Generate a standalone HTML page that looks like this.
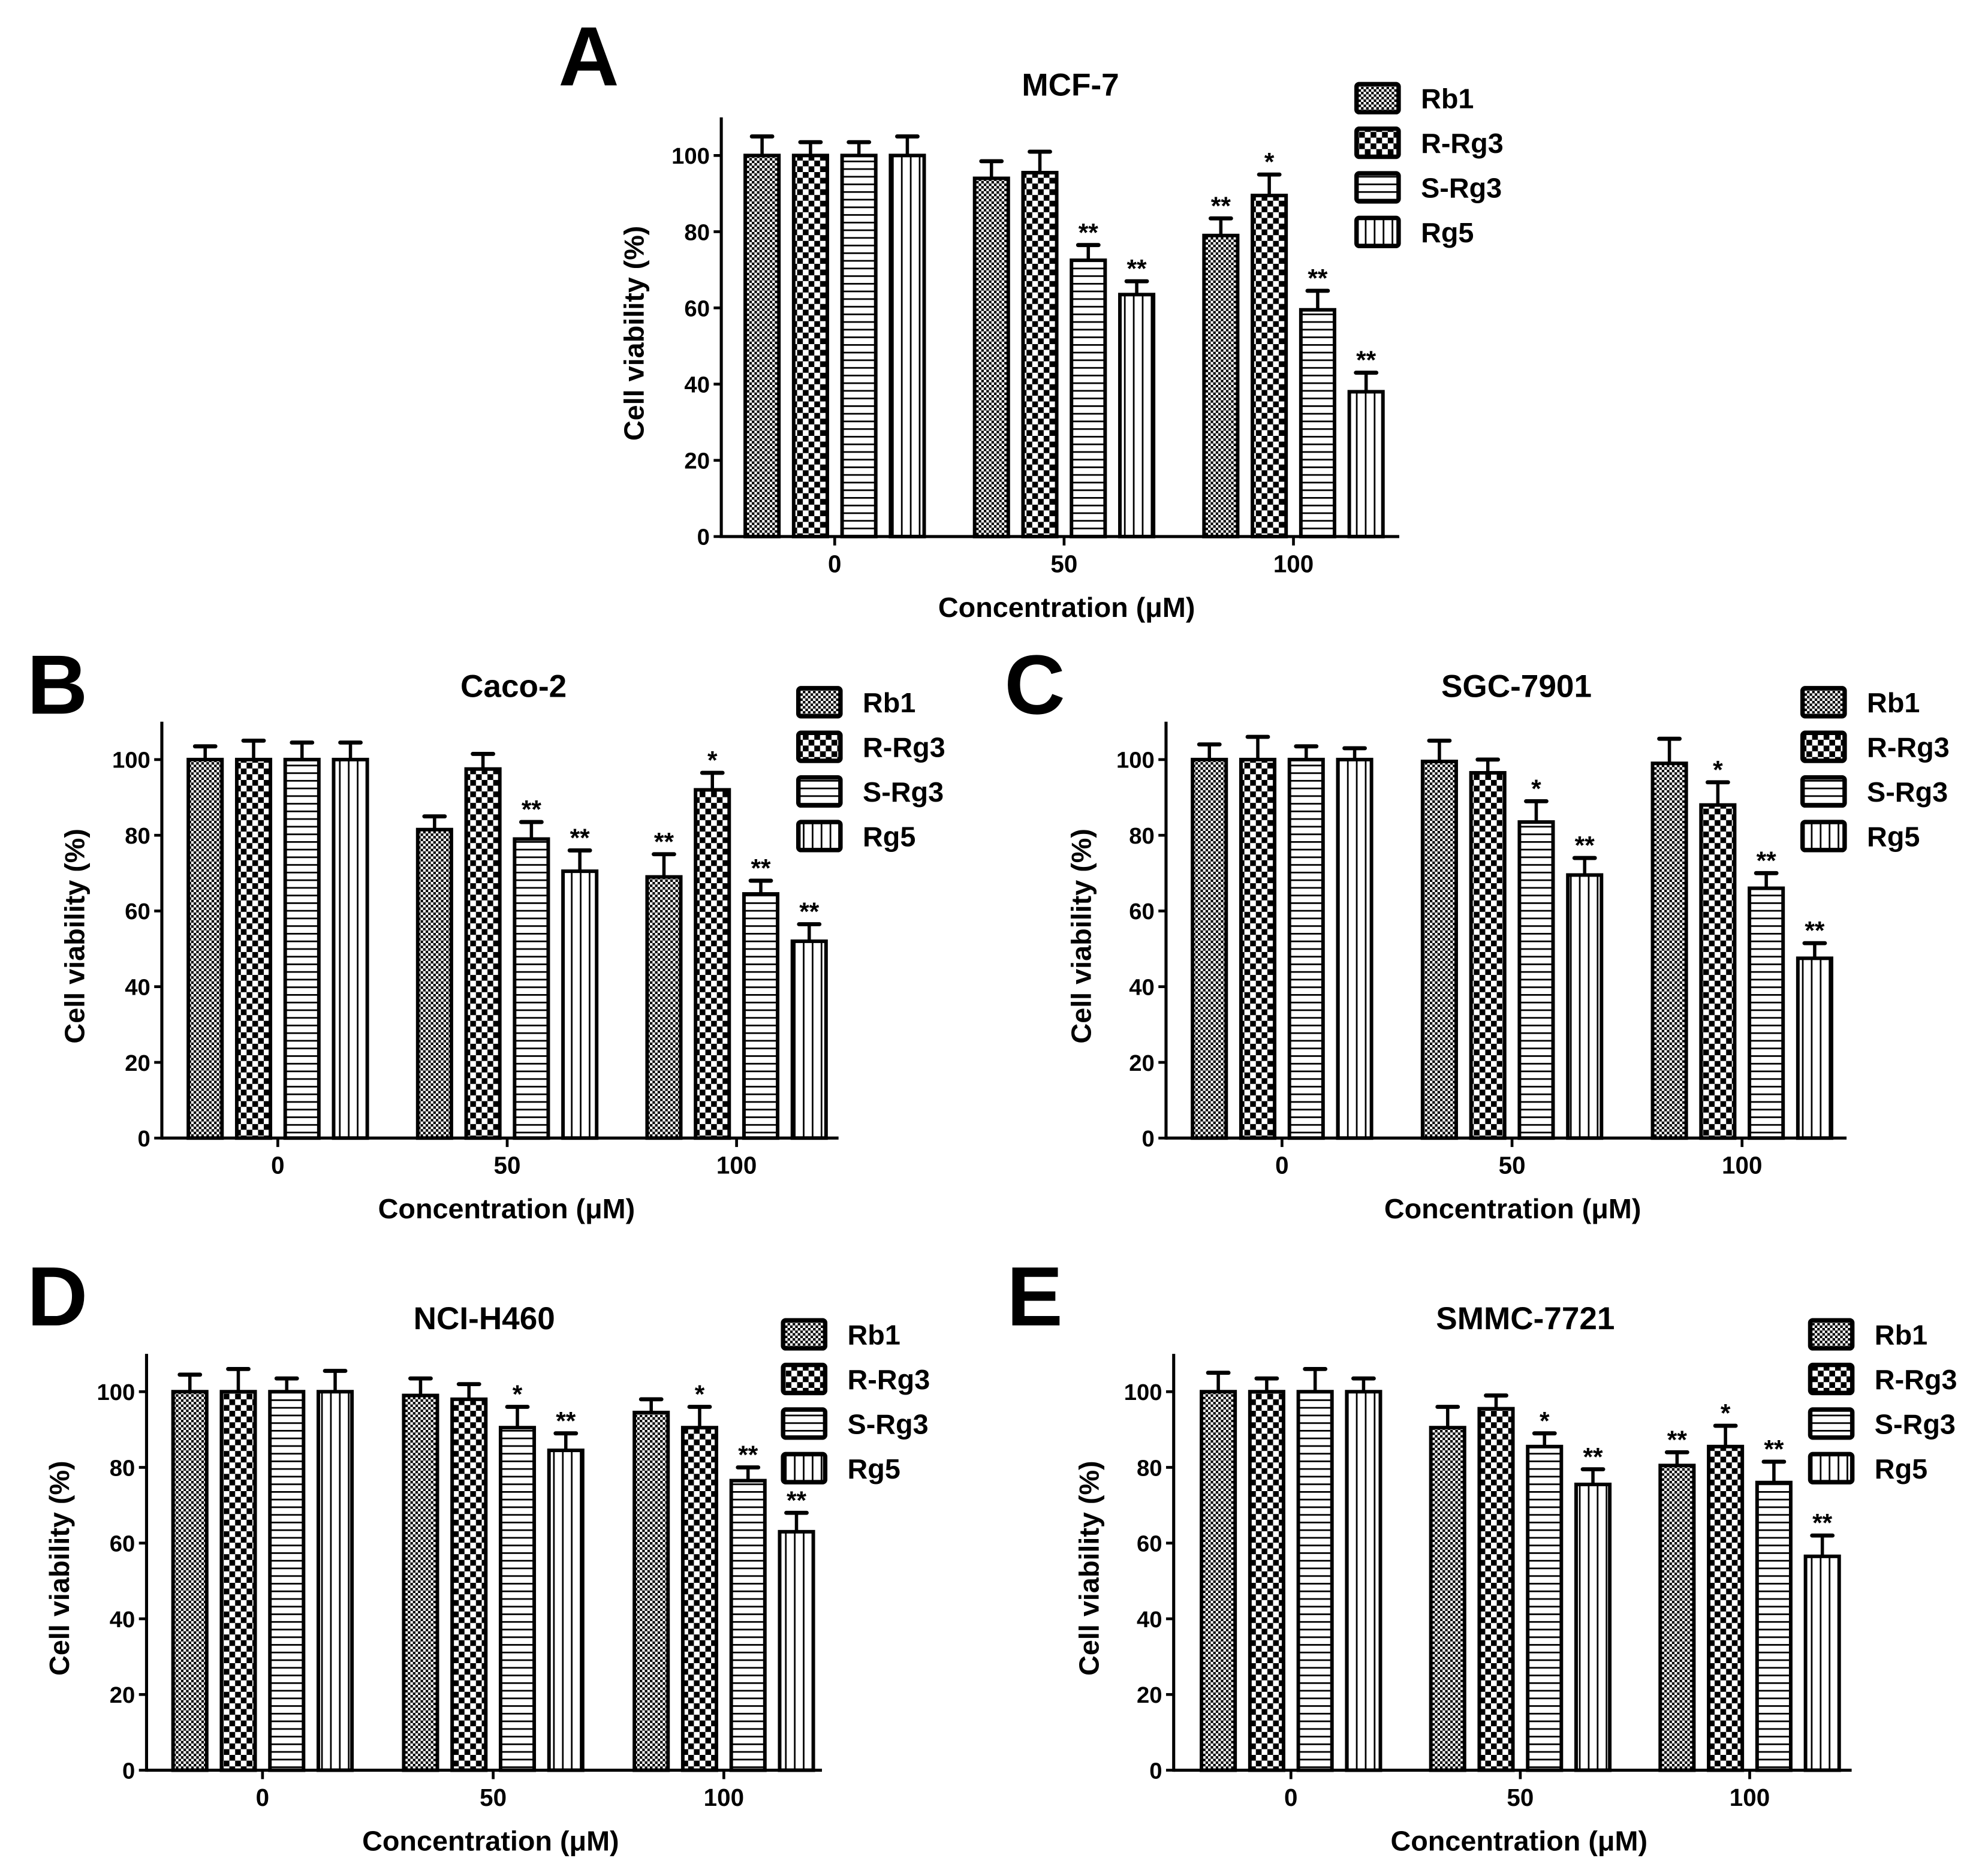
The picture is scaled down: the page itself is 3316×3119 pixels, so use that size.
<!DOCTYPE html>
<html><head><meta charset="utf-8"><style>
html,body{margin:0;padding:0;background:#fff}
svg{display:block}
text{font-family:"Liberation Sans",Arial,sans-serif;font-weight:bold;fill:#000}
</style></head><body>
<svg id="fig" xmlns="http://www.w3.org/2000/svg" width="3316" height="3119" viewBox="0 0 1560 1467.3">
<defs>
<pattern id="p-rb1" patternUnits="userSpaceOnUse" width="4" height="4"><rect width="4" height="4" fill="#fff"/><rect width="2" height="2" fill="#000"/><rect x="2" y="2" width="2" height="2" fill="#000"/></pattern>
<pattern id="p-rrg3" patternUnits="userSpaceOnUse" width="9" height="9"><rect width="9" height="9" fill="#fff"/><rect width="4.5" height="4.5" fill="#000"/><rect x="4.5" y="4.5" width="4.5" height="4.5" fill="#000"/></pattern>
<pattern id="p-srg3" patternUnits="userSpaceOnUse" width="6" height="6"><rect width="6" height="6" fill="#fff"/><rect y="0" width="6" height="1.3" fill="#000"/></pattern>
<pattern id="p-rg5" patternUnits="userSpaceOnUse" width="7" height="7"><rect width="7" height="7" fill="#fff"/><rect x="0" width="1.3" height="7" fill="#000"/></pattern>
</defs>
</svg>
<script>
const series = ["Rb1","R-Rg3","S-Rg3","Rg5"];
const categories = ["0","50","100"];
const yTicks = [0,20,40,60,80,100];
const panelTitles = ["MCF-7","Caco-2","SGC-7901","NCI-H460","SMMC-7721"];
const panelLetters = ["A","B","C","D","E"];
// values[panel][series][category]
const valsA = [[100,94,79],[100,95.5,89.5],[100,72.5,59.5],[100,63.5,38]];
const errsA = [[5,4.5,4.5],[3.5,5.5,5.5],[3.5,4,5],[5,3.5,5]];
const starsA = [["","",""],["","","*"],["","**","**"],["","**","**"]];
const valsA_rb1fix = null;
const valsB = [[100,81.5,69],[100,97.5,92],[100,79,64.5],[100,70.5,52]];
const errsB = [[3.5,3.5,6],[5,4,4.5],[4.5,4.5,3.5],[4.5,5.5,4.5]];
const starsB = [["","","**"],["","","*"],["","**","**"],["","**","**"]];
const valsC = [[100,99.5,99],[100,96.5,88],[100,83.5,66],[100,69.5,47.5]];
const errsC = [[4,5.5,6.5],[6,3.5,6],[3.5,5.5,4],[3,4.5,4]];
const starsC = [["","",""],["","","*"],["","*","**"],["","**","**"]];
const valsD = [[100,99,94.5],[100,98,90.5],[100,90.5,76.5],[100,84.5,63]];
const errsD = [[4.5,4.5,3.5],[6,4,5.5],[3.5,5.5,3.5],[5.5,4.5,5]];
const starsD = [["","",""],["","","*"],["","*","**"],["","**","**"]];
const valsE = [[100,90.5,80.5],[100,95.5,85.5],[100,85.5,76],[100,75.5,56.5]];
const errsE = [[5,5.5,3.5],[3.5,3.5,5.5],[6,3.5,5.5],[3.5,4,5.5]];
const starsE = [["","","**"],["","","*"],["","*","**"],["","**","**"]];
starsA[0][2]="**";

const panelVals=[valsA,valsB,valsC,valsD,valsE];
const panelErrs=[errsA,errsB,errsC,errsD,errsE];
const panelStars=[starsA,starsB,starsC,starsD,starsE];

// layout (not data)
const layouts=[
 {ax:566,y0:421,y100:122,x1:1098,g0:655,gs:180,title:[840,75],letter:[462,67],leg:[1063,77],ytx:497},
 {ax:127,y0:893,y100:596,x1:658,g0:218,gs:180,title:[403,547],letter:[45,560],leg:[625,551],ytx:58},
 {ax:915,y0:893,y100:596,x1:1449,g0:1006,gs:180.5,title:[1190,547],letter:[812,560],leg:[1413,551],ytx:848},
 {ax:115,y0:1389,y100:1092,x1:645,g0:206,gs:181,title:[380,1043],letter:[45,1040],leg:[613,1047],ytx:46},
 {ax:921,y0:1389,y100:1092,x1:1453,g0:1013,gs:180,title:[1197,1043],letter:[812,1040],leg:[1419,1047],ytx:854}
];
const pats=["url(#p-rb1)","url(#p-rrg3)","url(#p-srg3)","url(#p-rg5)"];
const NS="http://www.w3.org/2000/svg";
const svg=document.getElementById('fig');
function mk(tag,attrs,parent,txt){const e=document.createElementNS(NS,tag);for(const k in attrs)e.setAttribute(k,attrs[k]);if(txt!==undefined)e.textContent=txt;parent.appendChild(e);return e;}

layouts.forEach((L,p)=>{
  const g=mk('g',{},svg);
  
  
  const yS=v=>L.y0-(L.y0-L.y100)*v/100;
  const xS=(c,s)=>L.g0+c*L.gs+(s-1.5)*38;
  // letter
  const lt=mk('text',{x:L.letter[0],y:L.letter[1],'font-size':66,'text-anchor':'middle'},g,panelLetters[p]);
  
  
  const tt=mk('text',{x:L.title[0],y:L.title[1],'font-size':25,'text-anchor':'middle'},g,panelTitles[p]);
  
  
  // bars
  const V=panelVals[p],E=panelErrs[p],S=panelStars[p];
  for(let s=0;s<4;s++)for(let c=0;c<3;c++){
    const cx=xS(c,s),top=yS(V[s][c]),et=yS(V[s][c]+E[s][c]);
    const bg=mk('g',{},g);
    
    
    mk('line',{x1:cx,x2:cx,y1:top,y2:et,stroke:'#000','stroke-width':2.6},bg);
    mk('line',{x1:cx-8,x2:cx+8,y1:et,y2:et,stroke:'#000','stroke-width':3.2,'stroke-linecap':'round'},bg);
    mk('rect',{x:cx-13.2,y:top,width:26.4,height:L.y0-top,fill:pats[s],stroke:'#000','stroke-width':2.8},bg);
    if(S[s][c]){const st=mk('text',{x:cx,y:et-3,'font-size':20,'text-anchor':'middle'},bg,S[s][c]);
      
      }
  }
  // axes
  const ya=mk('line',{x1:L.ax,x2:L.ax,y1:L.y0+1.2,y2:yS(110),stroke:'#000','stroke-width':2.4},g);
  
  
  const xa=mk('line',{x1:L.ax,x2:L.x1,y1:L.y0,y2:L.y0,stroke:'#000','stroke-width':2.4},g);
  
  
  yTicks.forEach(t=>{
    mk('line',{x1:L.ax-6,x2:L.ax,y1:yS(t),y2:yS(t),stroke:'#000','stroke-width':2.2},g);
    const tl=mk('text',{x:L.ax-9,y:yS(t)+6.5,'font-size':18,'text-anchor':'end'},g,String(t));
    
    
  });
  categories.forEach((cat,c)=>{
    const x=L.g0+c*L.gs;
    mk('line',{x1:x,x2:x,y1:L.y0,y2:L.y0+7,stroke:'#000','stroke-width':2.2},g);
    const cl=mk('text',{x:x,y:L.y0+28,'font-size':19,'text-anchor':'middle'},g,cat);
    
    
  });
  const xt=mk('text',{x:(L.ax+L.x1)/2+5,y:L.y0+63,'font-size':22,'text-anchor':'middle'},g,'Concentration (μM)');
  
  
  const yc=(L.y0+L.y100)/2-10;
  const yt=mk('text',{x:L.ytx,y:yc,'font-size':22,'text-anchor':'middle',transform:`rotate(-90 ${L.ytx} ${yc})`,dy:8},g,'Cell viability (%)');
  
  
  // legend
  series.forEach((nm,s)=>{
    const ly=L.leg[1]+s*35;
    const le=mk('g',{},g);
    
    
    mk('rect',{x:L.leg[0]+1.5,y:ly-11,width:33,height:22,fill:pats[s],stroke:'#000','stroke-width':3.5,rx:2},le);
    mk('text',{x:L.leg[0]+52,y:ly+8,'font-size':22},le,nm);
  });
});
</script>
</body></html>
